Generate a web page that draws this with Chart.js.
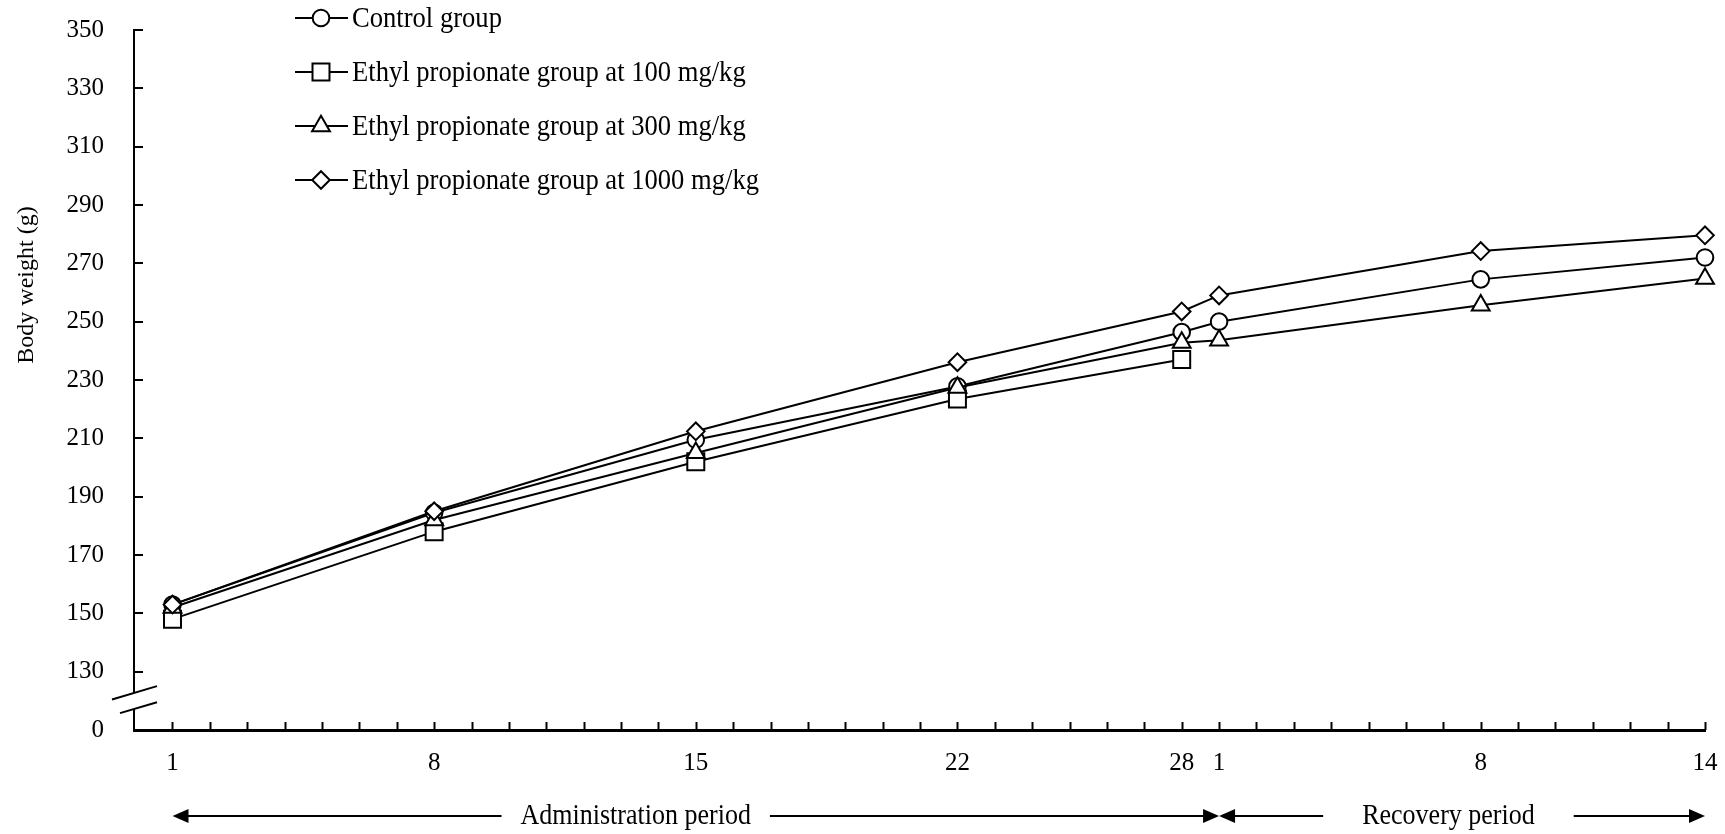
<!DOCTYPE html>
<html>
<head>
<meta charset="utf-8">
<title>Body weight</title>
<script src="https://cdn.jsdelivr.net/npm/chart.js@4.4.1/dist/chart.umd.min.js"></script>
<style>
  html, body { margin: 0; padding: 0; background: #fff; }
  canvas { display: block; }
</style>
</head>
<body>
<canvas id="weightChart" width="1725" height="834"></canvas>
<script>
// days run on one scale: recovery day 1 sits at day 29
const days = [1, 8, 15, 22, 28, 29, 36, 42];
const controlGroup = [153, 184.5, 209.5, 227.8, 246.4, 250, 264.5, 272];
const dose100 = [148, 178, 202, 223.5, 237];
const dose300 = [152, 182, 205, 227.4, 242.8, 243.6, 255.6, 264.8];
const dose1000 = [153, 185, 212.4, 236.1, 253.5, 259, 274.2, 279.6];

const seriesNames = [
    'Control group',
    'Ethyl propionate group at 100 mg/kg',
    'Ethyl propionate group at 300 mg/kg',
    'Ethyl propionate group at 1000 mg/kg'
];
const xTickValues = [1, 8, 15, 22, 28, 29, 36, 42];
const xTickLabels = ['1', '8', '15', '22', '28', '1', '8', '14'];
const yTickValues = [110, 130, 150, 170, 190, 210, 230, 250, 270, 290, 310, 330, 350];
const yTickLabels = ['0', '130', '150', '170', '190', '210', '230', '250', '270', '290', '310', '330', '350'];
const periodNames = ['Administration period', 'Recovery period'];
const yTitle = 'Body weight (g)';

const FONT = "'Liberation Serif', 'Times New Roman', serif";
Chart.defaults.font.family = FONT;
Chart.defaults.color = '#000';

function toPoints(values) {
    return values.map((v, i) => ({ x: days[i], y: v }));
}

function makeSet(label, values, style, radius, order) {
    return {
        label: label,
        data: toPoints(values),
        borderColor: '#000',
        borderWidth: 2,
        backgroundColor: '#fff',
        pointStyle: style,
        pointRadius: radius,
        pointBorderWidth: 2,
        pointBackgroundColor: '#fff',
        pointBorderColor: '#000',
        tension: 0,
        clip: false,
        order: order
    };
}

// the source figure's lettering is a little taller than normal
function tallText(ctx, text, x, y, size) {
    ctx.save();
    ctx.translate(x, y);
    ctx.scale(1, 1.1);
    ctx.font = size + 'px ' + FONT;
    ctx.fillText(text, 0, 0);
    ctx.restore();
}

// inward tick marks, axis break, legend, y title and period arrows
const decorations = {
    id: 'decorations',
    afterDraw(chart) {
        const ctx = chart.ctx;
        const xs = chart.scales.x;
        const ys = chart.scales.y;
        const area = chart.chartArea;
        ctx.save();
        ctx.strokeStyle = '#000';
        ctx.fillStyle = '#000';
        ctx.lineWidth = 2;

        // ticks pointing into the plot
        xs.ticks.forEach(t => {
            const px = Math.round(xs.getPixelForValue(t.value)) + 0.5;
            ctx.beginPath();
            ctx.moveTo(px, area.bottom);
            ctx.lineTo(px, area.bottom - 8);
            ctx.stroke();
        });
        ys.ticks.forEach(t => {
            if (t.value === yTickValues[0]) return;
            const py = Math.round(ys.getPixelForValue(t.value));
            ctx.beginPath();
            ctx.moveTo(area.left, py);
            ctx.lineTo(area.left + 9, py);
            ctx.stroke();
        });

        // axis break
        const ax = area.left;
        const yUp = ys.getPixelForValue(122.7);
        const yLo = ys.getPixelForValue(117.2);
        const slope = -0.296;
        ctx.fillStyle = '#fff';
        ctx.beginPath();
        ctx.moveTo(ax - 4, yUp - 4 * slope);
        ctx.lineTo(ax + 4, yUp + 4 * slope);
        ctx.lineTo(ax + 4, yLo + 4 * slope);
        ctx.lineTo(ax - 4, yLo - 4 * slope);
        ctx.closePath();
        ctx.fill();
        ctx.beginPath();
        ctx.moveTo(ax - 22, yUp - 22 * slope);
        ctx.lineTo(ax + 23, yUp + 23 * slope);
        ctx.moveTo(ax - 14, yLo - 14 * slope);
        ctx.lineTo(ax + 23, yLo + 23 * slope);
        ctx.stroke();
        ctx.fillStyle = '#000';

        // legend
        const helpers = Chart.helpers;
        ctx.textAlign = 'left';
        ctx.textBaseline = 'middle';
        chart.data.datasets.forEach((ds, i) => {
            const ly = 18 + i * 54;
            ctx.strokeStyle = '#000';
            ctx.lineWidth = 2;
            ctx.beginPath();
            ctx.moveTo(295, ly);
            ctx.lineTo(348, ly);
            ctx.stroke();
            ctx.fillStyle = '#fff';
            helpers.drawPoint(ctx, {
                pointStyle: ds.pointStyle,
                radius: ds.pointRadius,
                rotation: 0,
                borderWidth: 2
            }, 321, ly);
            ctx.fillStyle = '#000';
            tallText(ctx, ds.label, 352, ly + 1, 26.6);
        });

        // y title
        ctx.save();
        ctx.translate(27, 285);
        ctx.rotate(-Math.PI / 2);
        ctx.textAlign = 'center';
        ctx.font = '24px ' + FONT;
        ctx.fillText(yTitle, 0, 0);
        ctx.restore();

        // period arrows
        const ay = 816;
        const pStart = xs.getPixelForValue(days[0]);
        const pMid = xs.getPixelForValue(29);
        const pEnd = xs.getPixelForValue(42);
        const head = (x, dir) => {
            ctx.beginPath();
            ctx.moveTo(x, ay);
            ctx.lineTo(x - dir * 16, ay - 7);
            ctx.lineTo(x - dir * 16, ay + 7);
            ctx.closePath();
            ctx.fill();
        };
        const period = (x0, x1, frac, gap, text) => {
            ctx.font = '26px ' + FONT;
            ctx.textAlign = 'center';
            const cx = x0 + (x1 - x0) * frac;
            const w = ctx.measureText(text).width;
            tallText(ctx, text, cx, ay, 26);
            ctx.lineWidth = 2;
            ctx.beginPath();
            ctx.moveTo(x0 + 10, ay);
            ctx.lineTo(cx - w / 2 - gap, ay);
            ctx.moveTo(cx + w / 2 + gap, ay);
            ctx.lineTo(x1 - 10, ay);
            ctx.stroke();
            head(x0, -1);
            head(x1, 1);
        };
        period(pStart, pMid, 0.4426, 19, periodNames[0]);
        period(pMid, pEnd, 0.472, 39, periodNames[1]);

        ctx.restore();
    }
};

new Chart(document.getElementById('weightChart'), {
    type: 'line',
    data: {
        datasets: [
            makeSet(seriesNames[0], controlGroup, 'circle', 8.3, 4),
            makeSet(seriesNames[1], dose100, 'rect', 12, 3),
            makeSet(seriesNames[2], dose300, 'triangle', 10.3, 2),
            makeSet(seriesNames[3], dose1000, 'rectRot', 8.8, 1)
        ]
    },
    options: {
        responsive: false,
        animation: false,
        devicePixelRatio: 1,
        events: [],
        layout: { padding: { top: 30, right: 20, left: 0, bottom: 0 } },
        plugins: {
            legend: { display: false },
            tooltip: { enabled: false }
        },
        scales: {
            x: {
                type: 'linear',
                min: -0.03,
                max: 42,
                afterBuildTicks: s => {
                    s.ticks = [];
                    for (let d = 1; d <= 42; d++) s.ticks.push({ value: d });
                },
                afterFit: s => {
                    s.height = 104;
                    s.paddingLeft = 0;
                    s.paddingRight = 0;
                },
                grid: { display: false, drawTicks: false },
                border: { display: true, color: '#000', width: 3 },
                ticks: {
                    autoSkip: false,
                    maxRotation: 0,
                    padding: 18,
                    color: '#000',
                    font: { size: 25 },
                    callback: v => {
                        const i = xTickValues.indexOf(v);
                        return i >= 0 ? xTickLabels[i] : '';
                    }
                }
            },
            y: {
                type: 'linear',
                min: 110,
                max: 350,
                afterBuildTicks: s => {
                    s.ticks = yTickValues.map(v => ({ value: v }));
                },
                afterFit: s => {
                    s.width = 134;
                    s.paddingTop = 0;
                    s.paddingBottom = 0;
                },
                grid: { display: false, drawTicks: false },
                border: { display: true, color: '#000', width: 2 },
                ticks: {
                    padding: 30,
                    color: '#000',
                    font: { size: 25 },
                    callback: v => yTickLabels[yTickValues.indexOf(v)]
                }
            }
        }
    },
    plugins: [decorations]
});
</script>
</body>
</html>
